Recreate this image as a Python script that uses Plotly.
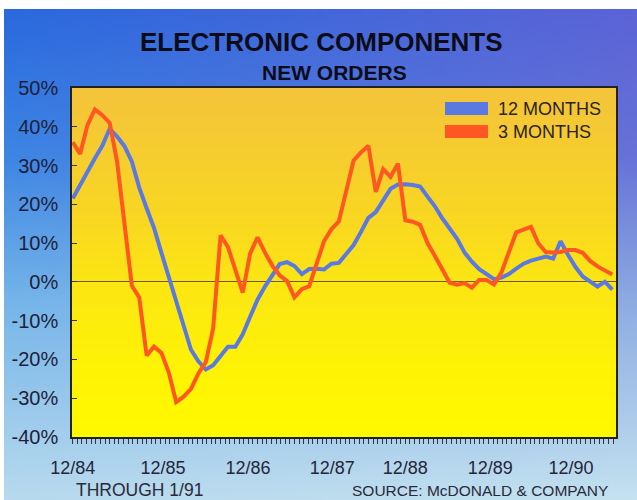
import base64, struct, zlib
import numpy as np
import plotly.graph_objects as go

# ---------------- data ----------------
month_index = list(range(74))          # 12/84 ... 1/91, monthly
three_months = [36, 33, 40.5, 44.5, 43, 41, 31, 15, -1, -4,
                -19, -16.7, -18.3, -23.4, -31, -29.6, -27.6, -23.6, -20.7, -12,
                12, 9, 3, -2.8, 7.3, 11.5, 7.6, 4.2, 1.7, 0.2,
                -4, -1.9, -1.1, 5.0, 10.5, 13.6, 15.6, 23.4, 31.3, 33.4,
                35.1, 23.2, 29.1, 27.1, 30.5, 15.9, 15.5, 14.7, 10, 6.7,
                3.1, -0.2, -0.7, -0.3, -1.5, 0.5, 0.5, -0.7, 2.4, 8.0,
                12.8, 13.5, 14.2, 9.9, 7.7, 7.6, 7.7, 8.2, 8.2, 7.5,
                5.4, 4.0, 2.9, 1.9]
twelve_months = [21.5, 25, 28.7, 31.9, 35.1, 39.5, 37.5, 35, 31, 24.3,
                 19, 13.9, 7.5, 1.3, -5.1, -11.6, -17.5, -20.5, -22.6, -21.5,
                 -18.9, -16.7, -16.7, -13.5, -9, -4.6, -1.2, 1.9, 4.6, 5.1,
                 4.1, 2, 3.3, 3.4, 3.2, 4.7, 4.9, 7.2, 9.5, 12.9,
                 16.5, 18, 20.9, 24, 25.1, 25.2, 25, 24.6, 22, 19.5,
                 16.4, 13.6, 11.1, 7.6, 5.2, 3.3, 2, 0.7, 1.1, 2,
                 3.4, 4.7, 5.5, 6, 6.5, 6, 10.5, 7, 3.9, 1.4,
                 0, -1.2, 0, -2]
tick_labels = ["12/84", "12/85", "12/86", "12/87", "12/88", "12/89", "12/90"]
tick_pos = [0, 12.2, 23.7, 35.1, 45.0, 56.5, 67.4]
y_ticks = [-40, -30, -20, -10, 0, 10, 20, 30, 40, 50]
y_tick_labels = ["-40%", "-30%", "-20%", "-10%", "0%", "10%", "20%", "30%", "40%", "50%"]

# ---------------- styling ----------------
W, H = 637, 500
L, R, T, B = 72, 21, 88, 63
PW, PH = W - L - R, H - T - B
FONT = "Liberation Sans, Arial, Helvetica, sans-serif"
BLUE = "#5a7ae2"
ORANGE = "#ff5722"
TXT = "#1d1f3a"


def png_uri(arr):
    arr = np.clip(arr, 0, 255).astype(np.uint8)
    h, w, _ = arr.shape
    raw = b"".join(b"\x00" + arr[r].tobytes() for r in range(h))

    def chunk(tag, data):
        return (struct.pack(">I", len(data)) + tag + data
                + struct.pack(">I", zlib.crc32(tag + data) & 0xFFFFFFFF))
    png = (b"\x89PNG\r\n\x1a\n"
           + chunk(b"IHDR", struct.pack(">IIBBBBB", w, h, 8, 2, 0, 0, 0))
           + chunk(b"IDAT", zlib.compress(raw, 9))
           + chunk(b"IEND", b""))
    return "data:image/png;base64," + base64.b64encode(png).decode()


def ramp(stops, n):
    pos = np.array([s[0] for s in stops])
    cols = np.array([s[1] for s in stops], dtype=float)
    t = np.linspace(0, 1, n)
    return np.stack([np.interp(t, pos, cols[:, c]) for c in range(3)], axis=1)

# outer blue background (vertical ramps at left / right, blended horizontally)
gh, gw = 120, 80
left_col = ramp([(0, (42, 106, 222)), (0.3, (62, 134, 228)), (0.6, (118, 182, 234)), (1, (184, 218, 238))], gh)
right_col = ramp([(0, (92, 100, 214)), (0.3, (104, 114, 216)), (0.6, (142, 172, 226)), (1, (196, 226, 240))], gh)
tx = np.linspace(0, 1, gw)[None, :, None]
outer = left_col[:, None, :] * (1 - tx) + right_col[:, None, :] * tx

# plot-area yellow gradient
inner_col = ramp([(0, (244, 196, 60)), (0.35, (249, 214, 36)), (0.55, (252, 230, 20)), (0.8, (255, 243, 6)), (1, (255, 250, 0))], 100)
inner = np.repeat(inner_col[:, None, :], 4, axis=1)

def px_x(px):
    return (px - L) / PW

def px_y(py):
    return (H - B - py) / PH

fig = go.Figure()
fig.add_trace(go.Scatter(x=month_index, y=twelve_months, mode="lines", name="12 MONTHS",
                         line=dict(color=BLUE, width=4)))
fig.add_trace(go.Scatter(x=month_index, y=three_months, mode="lines", name="3 MONTHS",
                         line=dict(color=ORANGE, width=4)))

images = [
    dict(source=png_uri(outer), xref="paper", yref="paper", x=px_x(4), y=px_y(9),
         sizex=(W - 4) / PW, sizey=(H - 9) / PH, xanchor="left", yanchor="top",
         sizing="stretch", layer="below"),
    dict(source=png_uri(inner), xref="paper", yref="paper", x=0, y=1,
         sizex=1, sizey=1, xanchor="left", yanchor="top", sizing="stretch", layer="below"),
]

shapes = [
    dict(type="rect", xref="paper", yref="paper", x0=px_x(445), x1=px_x(488),
         y0=px_y(115), y1=px_y(102), fillcolor=BLUE, line=dict(width=0)),
    dict(type="rect", xref="paper", yref="paper", x0=px_x(445), x1=px_x(488),
         y0=px_y(138), y1=px_y(125), fillcolor=ORANGE, line=dict(width=0)),
]

annotations = [
    dict(text="<b>ELECTRONIC COMPONENTS</b>", xref="paper", yref="paper", x=px_x(321), y=px_y(42.5),
         xanchor="center", yanchor="middle", showarrow=False, font=dict(family=FONT, size=26, color="#0c0c18")),
    dict(text="<b>NEW ORDERS</b>", xref="paper", yref="paper", x=px_x(334.5), y=px_y(72.5),
         xanchor="center", yanchor="middle", showarrow=False, font=dict(family=FONT, size=21, color="#0c0c18")),
    dict(text="12 MONTHS", xref="paper", yref="paper", x=px_x(496), y=px_y(109),
         xanchor="left", yanchor="middle", showarrow=False, font=dict(family=FONT, size=18, color="#2a2418")),
    dict(text="3 MONTHS", xref="paper", yref="paper", x=px_x(496), y=px_y(131.5),
         xanchor="left", yanchor="middle", showarrow=False, font=dict(family=FONT, size=18, color="#2a2418")),
    dict(text="THROUGH 1/91", xref="paper", yref="paper", x=px_x(139), y=px_y(489.5),
         xanchor="center", yanchor="middle", showarrow=False, borderpad=0,
         font=dict(family=FONT, size=17.5, color="#2a2a3a")),
    dict(text="SOURCE: McDONALD &amp; COMPANY", xref="paper", yref="paper", x=px_x(480), y=px_y(491),
         xanchor="center", yanchor="middle", showarrow=False, borderpad=0,
         font=dict(family=FONT, size=15.5, color="#2a2a3a")),
]

fig.update_layout(
    width=W, height=H, margin=dict(l=L, r=R, t=T, b=B, pad=0, autoexpand=False),
    paper_bgcolor="rgba(0,0,0,0)", plot_bgcolor="rgba(0,0,0,0)",
    showlegend=False, images=images, shapes=shapes, annotations=annotations,
    font=dict(family=FONT, color=TXT),
)
fig.update_xaxes(
    range=[-0.1, 73.5], tickmode="array", tickvals=tick_pos, ticktext=tick_labels,
    ticks="", showgrid=False, zeroline=False, showline=True, mirror=True,
    linecolor="#222222", linewidth=1.5, ticklabelstandoff=14,
    tickfont=dict(family=FONT, size=18, color="#26263a"),
    minor=dict(tickmode="linear", tick0=0, dtick=0.625, ticks="outside", ticklen=5,
               tickwidth=1, tickcolor="#333344", showgrid=False),
)
fig.update_yaxes(
    range=[-40, 50], tickmode="array", tickvals=y_ticks, ticktext=y_tick_labels,
    ticks="inside", ticklen=5, tickcolor="#333344", showgrid=False,
    zeroline=True, zerolinecolor="#6a5a30", zerolinewidth=1,
    showline=True, mirror=True, linecolor="#222222", linewidth=1.5, ticklabelstandoff=8,
    tickfont=dict(family=FONT, size=20, color=TXT),
)

fig.write_html("out.html", config={"displayModeBar": False},
               post_script="document.body.style.margin='0';document.body.style.overflow='hidden';")
